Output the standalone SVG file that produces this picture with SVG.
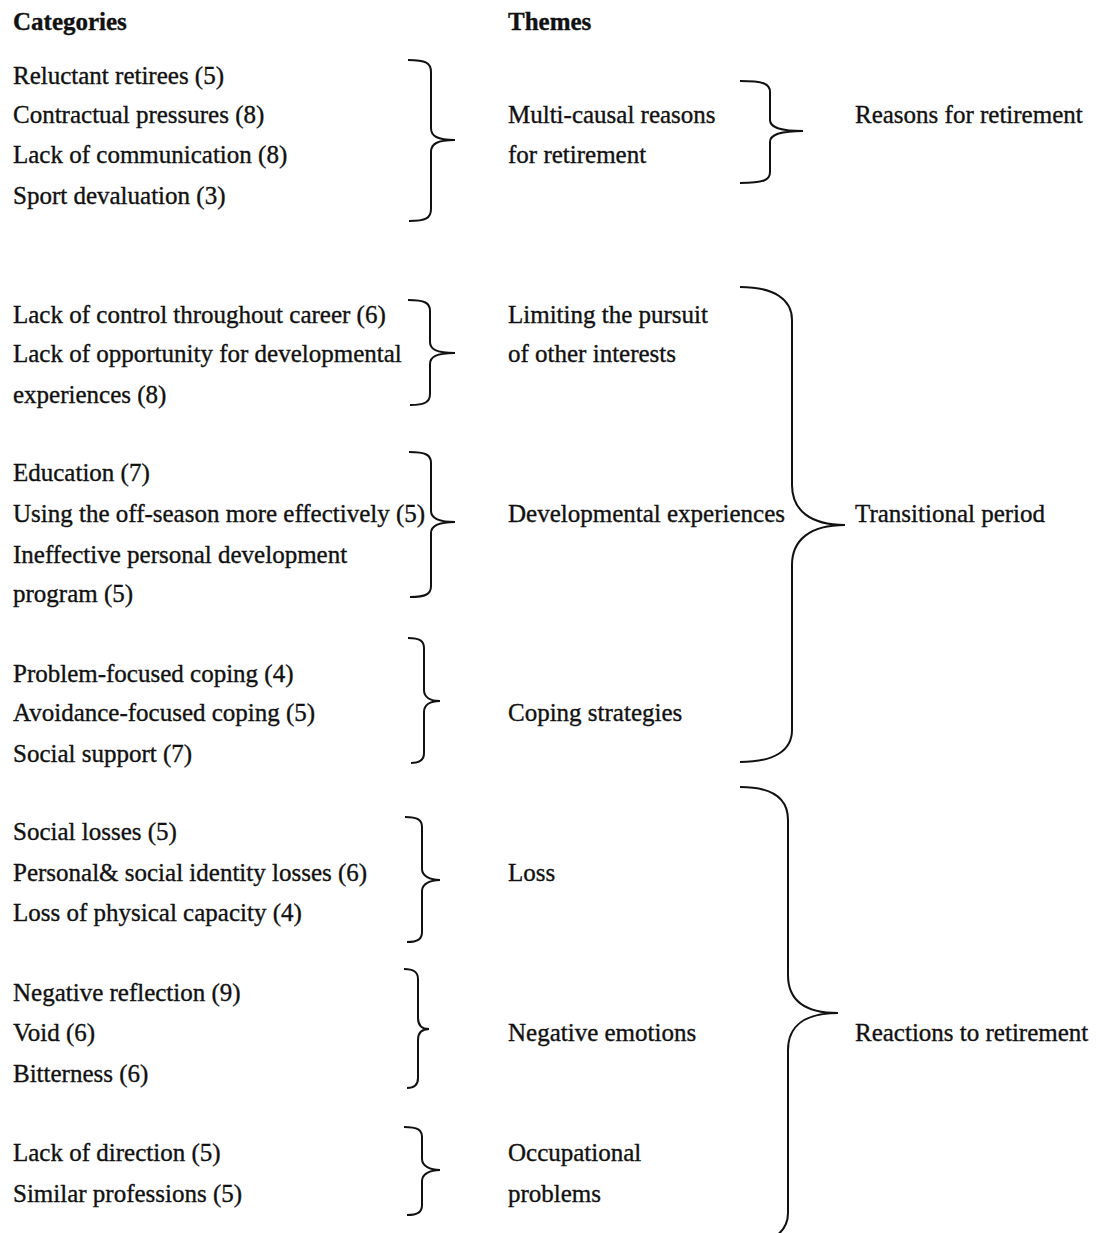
<svg xmlns="http://www.w3.org/2000/svg" width="1097" height="1233" viewBox="0 0 1097 1233">
<style>
text{font-family:"Liberation Serif","Times New Roman",serif;font-size:25px;fill:#111;stroke:#111;stroke-width:0.35}
.h{font-weight:bold}
.br{fill:none;stroke:#111;stroke-width:2}
</style>
<rect width="1097" height="1233" fill="#fff"/>
<g id="headers">
<text class="h" x="13" y="30">Categories</text>
<text class="h" x="508" y="30">Themes</text>
</g>
<g id="cat-reasons">
<text x="13" y="84">Reluctant retirees (5)</text>
<text x="13" y="123">Contractual pressures (8)</text>
<text x="13" y="163">Lack of communication (8)</text>
<text x="13" y="204">Sport devaluation (3)</text>
</g>
<g id="cat-limiting">
<text x="13" y="323">Lack of control throughout career (6)</text>
<text x="13" y="362">Lack of opportunity for developmental</text>
<text x="13" y="403">experiences (8)</text>
</g>
<g id="cat-developmental">
<text x="13" y="481">Education (7)</text>
<text x="13" y="522">Using the off-season more effectively (5)</text>
<text x="13" y="563">Ineffective personal development</text>
<text x="13" y="602">program (5)</text>
</g>
<g id="cat-coping">
<text x="13" y="682">Problem-focused coping (4)</text>
<text x="13" y="721">Avoidance-focused coping (5)</text>
<text x="13" y="762">Social support (7)</text>
</g>
<g id="cat-loss">
<text x="13" y="840">Social losses (5)</text>
<text x="13" y="881">Personal&amp; social identity losses (6)</text>
<text x="13" y="921">Loss of physical capacity (4)</text>
</g>
<g id="cat-negative">
<text x="13" y="1001">Negative reflection (9)</text>
<text x="13" y="1041">Void (6)</text>
<text x="13" y="1082">Bitterness (6)</text>
</g>
<g id="cat-occupational">
<text x="13" y="1161">Lack of direction (5)</text>
<text x="13" y="1202">Similar professions (5)</text>
</g>
<g id="theme-multicausal">
<text x="508" y="123">Multi-causal reasons</text>
<text x="508" y="163">for retirement</text>
</g>
<g id="theme-limiting">
<text x="508" y="323">Limiting the pursuit</text>
<text x="508" y="362">of other interests</text>
</g>
<g id="theme-developmental"><text x="508" y="522">Developmental experiences</text></g>
<g id="theme-coping"><text x="508" y="721">Coping strategies</text></g>
<g id="theme-loss"><text x="508" y="881">Loss</text></g>
<g id="theme-negative"><text x="508" y="1041">Negative emotions</text></g>
<g id="theme-occupational">
<text x="508" y="1161">Occupational</text>
<text x="508" y="1202">problems</text>
</g>
<g id="dim-reasons"><text x="855" y="123">Reasons for retirement</text></g>
<g id="dim-transitional"><text x="855" y="522">Transitional period</text></g>
<g id="dim-reactions"><text x="855" y="1041">Reactions to retirement</text></g>
<g id="connectors">
<path class="br" d="M408,60 C426,60 431,63 431,72 L431,128 C431,136 437,140 455,140 C437,140 431,144 431,152 L431,209 C431,218 426,221 409,221"/>
<path class="br" d="M740,81 C764,81 770,84 770,92 L770,120 C770,127 778,131 803,131 C778,131 770,135 770,142 L770,172 C770,180 764,183 740,183"/>
<path class="br" d="M408,300 C425,300 430,303 430,311 L430,342 C430,349 436,353 455,353 C436,353 430,357 430,364 L430,394 C430,402 425,405 410,405"/>
<path class="br" d="M409,452 C426,452 431,455 431,463 L431,511 C431,518 437,522 455,522 C437,522 431,526 431,533 L431,586 C431,594 426,597 410,597"/>
<path class="br" d="M740,287 C775,287 792,300 792,320 L792,485 C792,510 810,525 845,525 C810,525 792,540 792,565 L792,730 C792,750 775,762 740,762"/>
<path class="br" d="M408,638 C420,638 424,641 424,648 L424,690 C424,697 430,701 440,701 C430,701 424,705 424,712 L424,753 C424,760 420,763 411,763"/>
<path class="br" d="M405,817 C418,817 422,820 422,827 L422,869 C422,876 430,880 440,880 C430,880 422,884 422,891 L422,932 C422,939 418,942 407,942"/>
<path class="br" d="M404,969 C414,969 418,972 418,979 L418,1018 C418,1025 422,1029 429,1029 C422,1029 418,1033 418,1040 L418,1078 C418,1085 414,1088 407,1088"/>
<path class="br" d="M404,1127 C418,1127 422,1130 422,1137 L422,1159 C422,1166 430,1170 440,1170 C430,1170 422,1174 422,1181 L422,1205 C422,1212 418,1215 407,1215"/>
<path class="br" d="M740,787 C775,787 788,800 788,820 L788,975 C788,1000 805,1013 838,1013 C805,1013 788,1026 788,1050 L788,1213 C788,1230 775,1240 755,1245"/>
</g>
</svg>
